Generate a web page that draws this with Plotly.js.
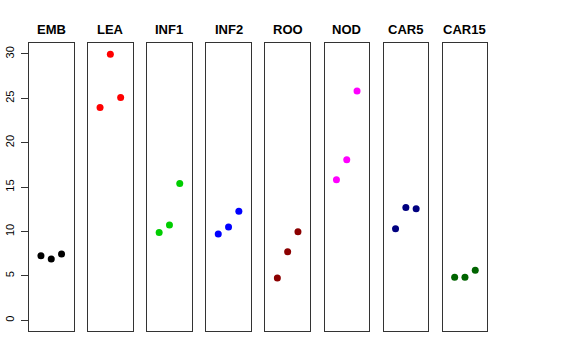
<!DOCTYPE html>
<html>
<head>
<meta charset="utf-8">
<script src="https://cdn.plot.ly/plotly-3.0.1.min.js"></script>
<style>html,body{margin:0;padding:0;background:#fff;}#chart{width:576px;height:360px;}</style>
</head>
<body>
<div id="chart"></div>
<script>
const categories = ["EMB", "LEA", "INF1", "INF2", "ROO", "NOD", "CAR5", "CAR15"];
const replicate = [1, 2, 3];
const EMB = [7.27, 6.9, 7.46];
const LEA = [23.96, 29.96, 25.09];
const INF1 = [9.9, 10.73, 15.41];
const INF2 = [9.71, 10.5, 12.3];
const ROO = [4.76, 7.73, 9.98];
const NOD = [15.83, 18.08, 25.84];
const CAR5 = [10.31, 12.71, 12.56];
const CAR15 = [4.84, 4.84, 5.63];
const seriesValues = [EMB, LEA, INF1, INF2, ROO, NOD, CAR5, CAR15];
const colors = ["#000000", "#FF0000", "#00CD00", "#0000FF", "#8B0000", "#FF00FF", "#000080", "#006400"];
const yTicks = [0, 5, 10, 15, 20, 25, 30];

const W = 576, H = 360;
const panelLeft = 29, panelPitch = 59.1, panelWidth = 44.5;
const yTop = 43.3, yBottom = 331;

const traces = [];
const layout = {
  width: W, height: H,
  margin: {l: 0, r: 0, t: 0, b: 0},
  paper_bgcolor: "#fff", plot_bgcolor: "#fff",
  showlegend: false,
  font: {family: "Liberation Sans, Arial, sans-serif", color: "#000"},
  annotations: []
};
const yDomain = [(H - yBottom) / H, (H - yTop) / H];

categories.forEach((cat, i) => {
  const n = i + 1;
  const xa = n === 1 ? "xaxis" : "xaxis" + n;
  const ya = n === 1 ? "yaxis" : "yaxis" + n;
  const x0 = panelLeft + i * panelPitch;
  traces.push({
    type: "scatter", mode: "markers",
    x: replicate, y: seriesValues[i],
    xaxis: "x" + (n === 1 ? "" : n), yaxis: "y" + (n === 1 ? "" : n),
    marker: {color: colors[i], size: 7},
    hoverinfo: "skip"
  });
  layout[xa] = {
    domain: [x0 / W, (x0 + panelWidth) / W],
    range: [-0.16, 4.16],
    anchor: "y" + (n === 1 ? "" : n),
    showgrid: false, zeroline: false, showticklabels: false, ticks: "",
    showline: true, mirror: true, linecolor: "#333", linewidth: 1,
    fixedrange: true
  };
  layout[ya] = {
    domain: yDomain,
    range: [-1.2, 31.2],
    anchor: "x" + (n === 1 ? "" : n),
    showgrid: false, zeroline: false,
    showline: true, mirror: true, linecolor: "#333", linewidth: 1,
    fixedrange: true
  };
  if (n === 1) {
    Object.assign(layout[ya], {
      tickmode: "array", tickvals: yTicks, ticktext: yTicks.map(String),
      ticks: "outside", ticklen: 7, tickcolor: "#333", tickwidth: 1,
      tickangle: -90, tickfont: {size: 11, color: "#000"}, showticklabels: true,
      ticklabelstandoff: 3
    });
  } else {
    Object.assign(layout[ya], {showticklabels: false, ticks: ""});
  }
  layout.annotations.push({
    text: "<b>" + cat + "</b>",
    xref: "paper", yref: "paper",
    x: (x0 + panelWidth / 2) / W, y: (H - 29.7) / H,
    xanchor: "center", yanchor: "middle",
    showarrow: false,
    font: {size: 13, color: "#000", family: "Liberation Sans, Arial, sans-serif"}
  });
});

Plotly.newPlot("chart", traces, layout, {displayModeBar: false, staticPlot: true});
</script>
</body>
</html>
